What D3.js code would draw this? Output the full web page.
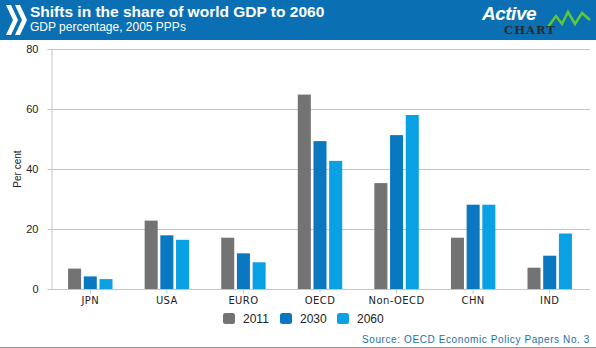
<!DOCTYPE html>
<html>
<head>
<meta charset="utf-8">
<script src="https://cdn.jsdelivr.net/npm/d3@7"></script>
<style>
  body { margin: 0; background: #fff; }
  svg { display: block; font-family: Arial, "Liberation Sans", sans-serif; }
</style>
</head>
<body>
<div class="chart"></div>
<script>
var categories = ['JPN', 'USA', 'EURO', 'OECD', 'Non-OECD', 'CHN', 'IND']
  , years = ['2011', '2030', '2060']
  , v2011 = [6.8, 22.8, 17.1, 64.8, 35.3, 17.1, 7.1]
  , v2030 = [4.2, 17.9, 11.9, 49.3, 51.3, 28.1, 11.1]
  , v2060 = [3.3, 16.4, 8.9, 42.7, 58.0, 28.1, 18.5]
  , yTicks = [0, 20, 40, 60, 80]
  , colors = ['#737373', '#0a78c0', '#0aa0e4'];

var w = 596
  , h = 348
  , margin = { top: 49, right: 8, bottom: 59, left: 52 };

var svg = d3.select('.chart')
            .append('svg')
            .attr('width', w)
            .attr('height', h);

// header band
svg.append('rect')
    .attr('x', 0).attr('y', 0)
    .attr('width', w).attr('height', 40)
    .attr('fill', '#0b70b3');

// oecd chevrons
[6, 15].forEach(function (x) {
  svg.append('path')
      .attr('d', 'M' + x + ',5 L' + (x + 5) + ',5 L' + (x + 12) + ',20 L' + (x + 5) + ',35 L' + x + ',35 L' + (x + 7) + ',20 Z')
      .attr('fill', '#fff');
});

svg.append('text')
    .attr('x', 30).attr('y', 17)
    .attr('fill', '#fff')
    .attr('font-size', 15.5)
    .attr('font-weight', 'bold')
    .text('Shifts in the share of world GDP to 2060');

svg.append('text')
    .attr('x', 30).attr('y', 31)
    .attr('fill', '#fff')
    .attr('font-size', 12)
    .text('GDP percentage, 2005 PPPs');

// active chart logo
svg.append('path')
    .attr('d', 'M548,27 L556,16 L562,24 L568,12 L575,24 L582,13 L590,20')
    .attr('fill', 'none')
    .attr('stroke', '#5ec83a')
    .attr('stroke-width', 2.5);
svg.append('text')
    .attr('x', 482).attr('y', 20)
    .attr('fill', '#fff')
    .attr('font-size', 19)
    .attr('font-weight', 'bold')
    .attr('font-style', 'italic')
    .attr('letter-spacing', -0.5)
    .text('Active');
svg.append('text')
    .attr('x', 504).attr('y', 34)
    .attr('fill', '#2b2b2b')
    .attr('font-family', '"DejaVu Serif", serif')
    .attr('font-size', 11.5)
    .attr('font-weight', 'bold')
    .attr('letter-spacing', 1)
    .text('CHART');

// scales
var x0 = d3.scaleBand()
           .domain(categories)
           .range([margin.left, w - margin.right])
           .paddingInner(0.42)
           .paddingOuter(0.21);

var x1 = d3.scaleBand()
           .domain(years)
           .range([0, x0.bandwidth()])
           .paddingInner(0.17);

var y = d3.scaleLinear()
          .domain([0, 80])
          .range([h - margin.bottom, margin.top]);

// gridlines
svg.append('g')
    .selectAll('line')
    .data(yTicks.slice(1))
    .enter()
    .append('line')
    .attr('x1', margin.left)
    .attr('x2', w - 6)
    .attr('y1', function (d) { return Math.round(y(d)) + 0.5; })
    .attr('y2', function (d) { return Math.round(y(d)) + 0.5; })
    .attr('stroke', '#c4c4c4');

// y axis
var yAxis = svg.append('g')
    .attr('transform', 'translate(' + (margin.left - 0.5) + ',0)')
    .call(d3.axisLeft(y).tickValues(yTicks).tickSize(4).tickPadding(9));
yAxis.select('.domain').attr('stroke', '#c4c4c4');
yAxis.selectAll('.tick line').attr('stroke', '#c4c4c4');
yAxis.selectAll('.tick text')
    .attr('font-size', 11)
    .attr('fill', '#222')
    .attr('font-family', 'Arial, sans-serif');

svg.append('text')
    .attr('transform', 'translate(21,' + ((margin.top + h - margin.bottom) / 2) + ') rotate(-90)')
    .attr('text-anchor', 'middle')
    .attr('font-size', 10)
    .attr('fill', '#222')
    .text('Per cent');

// bars
var rows = categories.map(function (c, i) {
  return { cat: c, vals: [v2011[i], v2030[i], v2060[i]] };
});

var groups = svg.append('g')
    .selectAll('g')
    .data(rows)
    .enter()
    .append('g')
    .attr('transform', function (d) { return 'translate(' + x0(d.cat) + ',0)'; });

groups.selectAll('rect')
    .data(function (d) { return d.vals.map(function (v, j) { return { year: years[j], v: v, j: j }; }); })
    .enter()
    .append('rect')
    .attr('x', function (d) { return x1(d.year); })
    .attr('y', function (d) { return y(d.v); })
    .attr('width', x1.bandwidth())
    .attr('height', function (d) { return y(0) - y(d.v); })
    .attr('fill', function (d) { return colors[d.j]; });

// x axis
var xAxis = svg.append('g')
    .attr('transform', 'translate(0,' + (Math.round(y(0)) + 0.5) + ')')
    .call(d3.axisBottom(x0).tickSize(4).tickSizeOuter(0).tickPadding(3));
xAxis.select('.domain').attr('stroke', '#b8c8dc').attr('d', 'M' + margin.left + ',0H' + (w - 6));
xAxis.selectAll('.tick line').attr('stroke', '#b8c8dc');
xAxis.selectAll('.tick text')
    .attr('font-size', 10)
    .attr('letter-spacing', 0.4)
    .attr('fill', '#222')
    .attr('font-family', '"DejaVu Sans", Verdana, sans-serif');

// legend
var legend = svg.append('g')
    .selectAll('g')
    .data(years)
    .enter()
    .append('g')
    .attr('transform', function (d, i) { return 'translate(' + (223 + i * 57) + ',313)'; });

legend.append('rect')
    .attr('width', 12).attr('height', 11)
    .attr('rx', 2.5)
    .attr('fill', function (d, i) { return colors[i]; });

legend.append('text')
    .attr('x', 20).attr('y', 10)
    .attr('font-size', 12)
    .attr('fill', '#222')
    .text(function (d) { return d; });

// source + footer line
svg.append('text')
    .attr('x', 590).attr('y', 343)
    .attr('text-anchor', 'end')
    .attr('font-size', 10)
    .attr('letter-spacing', 0.6)
    .attr('fill', '#1b6fa8')
    .text('Source: OECD Economic Policy Papers No. 3');

svg.append('line')
    .attr('x1', 0).attr('x2', w)
    .attr('y1', 347.5).attr('y2', 347.5)
    .attr('stroke', '#999');
</script>
</body>
</html>
